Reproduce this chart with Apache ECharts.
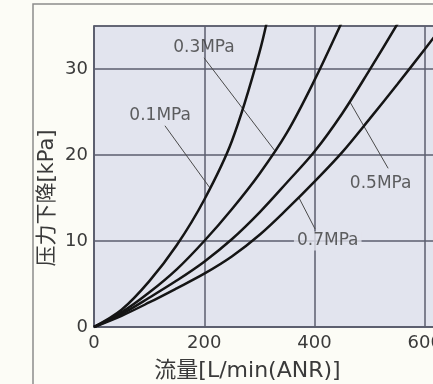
<!DOCTYPE html>
<html>
<head>
<meta charset="utf-8">
<script src="https://cdn.jsdelivr.net/npm/echarts@6/dist/echarts.min.js"></script>
<style>
  html, body { margin: 0; padding: 0; background: #fcfcf6; }
  #chart { width: 433px; height: 384px; }
</style>
</head>
<body>
<div id="chart"></div>
<script>
// 流量 [L/min(ANR)] / 压力下降 [kPa]
const flow01 = [0, 50, 100, 150, 200, 250, 300, 325]
const drop01 = [0, 2.0, 5.3, 9.5, 14.8, 21.6, 31.9, 39]

const flow03 = [0, 50, 100, 150, 200, 250, 300, 350, 400, 450, 475]
const drop03 = [0, 1.7, 4.0, 6.7, 10, 13.7, 17.8, 22.6, 28.7, 35.5, 39]

const flow05 = [0, 50, 100, 150, 200, 250, 300, 350, 400, 450, 500, 550, 575]
const drop05 = [0, 1.5, 3.4, 5.4, 7.6, 10.2, 13.3, 16.8, 20.4, 24.8, 29.9, 35.2, 38]

const flow07 = [0, 50, 100, 150, 200, 250, 300, 350, 400, 450, 500, 550, 600, 650]
const drop07 = [0, 1.3, 2.85, 4.5, 6.2, 8.2, 10.7, 13.7, 16.9, 20.3, 24.2, 28.2, 32.3, 36.5]

const xTicks = [0, 200, 400, 600]
const yTicks = [0, 10, 20, 30]

// curve labels and their leader lines (data units)
const labelNames = ['0.1MPa', '0.3MPa', '0.5MPa', '0.7MPa']
const labelFlow = [120, 199.5, 520, 424]
const labelDrop = [24.6, 32.5, 16.7, 10.0]
const leaderFrom = [[128.7, 23.4], [199.5, 31.3], [533.6, 18.45], [401, 11.4]]
const leaderTo = [[210, 16.2], [328, 20.5], [464, 26.2], [372, 15.0]]

const plotBg = '#e2e4ee'
const gridCol = '#5b5e6e'
const textCol = '#3a3a3a'
const font = "'DejaVu Sans', 'Noto Sans CJK JP'"

function pairs(xs, ys) {
  return xs.map((x, i) => [x, ys[i]])
}

const curves = [
  pairs(flow01, drop01),
  pairs(flow03, drop03),
  pairs(flow05, drop05),
  pairs(flow07, drop07)
]

const chart = echarts.init(document.getElementById('chart'))

const option = {
  animation: false,
  backgroundColor: '#fcfcf6',
  graphic: [{
    type: 'rect',
    shape: { x: 33, y: 4, width: 600, height: 600 },
    style: { fill: 'none', stroke: '#8c8c8c', lineWidth: 1.5 },
    z: -1
  }],
  grid: {
    left: 94,
    top: 26,
    width: 441,
    height: 301,
    outerBoundsMode: 'none',
    containLabel: false,
    show: true,
    backgroundColor: plotBg,
    borderColor: gridCol,
    borderWidth: 1.5
  },
  xAxis: {
    type: 'value',
    min: 0,
    max: 800,
    interval: 200,
    name: '流量[L/min(ANR)]',
    nameLocation: 'middle',
    nameGap: 33,
    nameMoveOverlap: false,
    nameTextStyle: {
      fontSize: 22,
      fontFamily: font,
      color: textCol,
      padding: [0, 134, 0, 0]
    },
    axisLine: { show: true, lineStyle: { color: gridCol, width: 1.5 } },
    axisTick: { show: false },
    splitLine: { show: true, lineStyle: { color: gridCol, width: 1.5 } },
    axisLabel: {
      fontSize: 18,
      fontFamily: font,
      color: textCol,
      margin: 7,
      formatter: v => (xTicks.indexOf(v) >= 0 ? String(v) : '')
    }
  },
  yAxis: {
    type: 'value',
    min: 0,
    max: 35,
    interval: 10,
    name: '压力下降[kPa]',
    nameLocation: 'middle',
    nameGap: 36,
    nameMoveOverlap: false,
    nameTextStyle: {
      fontSize: 21,
      fontFamily: font,
      color: textCol,
      padding: [0, 43, 0, 0]
    },
    axisLine: { show: true, lineStyle: { color: gridCol, width: 1.5 } },
    axisTick: { show: false },
    splitLine: { show: true, lineStyle: { color: gridCol, width: 1.5 } },
    axisLabel: {
      fontSize: 18,
      fontFamily: font,
      color: textCol,
      margin: 6,
      showMaxLabel: false,
      formatter: v => (yTicks.indexOf(v) >= 0 ? String(v) : '')
    }
  },
  series: [
    ...curves.map((d, i) => ({
      name: labelNames[i],
      type: 'line',
      data: d,
      smooth: 0.35,
      showSymbol: false,
      clip: true,
      lineStyle: { color: '#151515', width: 2.5 },
      z: 3
    })),
    {
      type: 'lines',
      coordinateSystem: 'cartesian2d',
      polyline: false,
      silent: true,
      lineStyle: { color: '#4a4a4a', width: 1, opacity: 1 },
      data: leaderFrom.map((p, i) => ({ coords: [p, leaderTo[i]] })),
      z: 2
    },
    {
      type: 'scatter',
      symbolSize: 0,
      silent: true,
      data: labelNames.map((n, i) => ({
        name: n,
        value: [labelFlow[i], labelDrop[i]],
        label: n === '0.7MPa'
          ? { backgroundColor: plotBg, padding: [1, 3] }
          : {}
      })),
      label: {
        show: true,
        position: 'inside',
        formatter: p => p.name,
        fontSize: 17,
        fontFamily: font,
        color: textCol
      },
      z: 4
    }
  ]
}

chart.setOption(option)
</script>
</body>
</html>
